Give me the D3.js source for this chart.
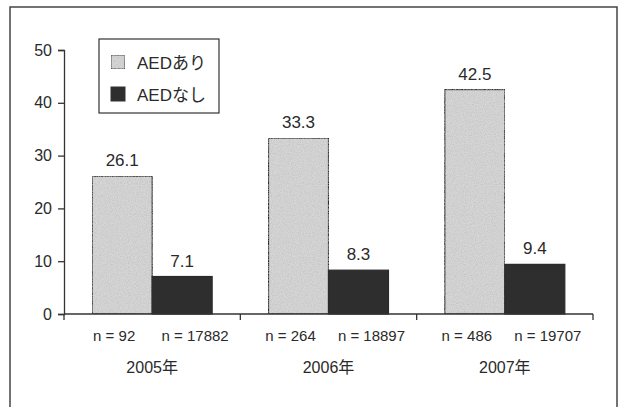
<!DOCTYPE html>
<html>
<head>
<meta charset="utf-8">
<script src="https://cdn.jsdelivr.net/npm/d3@7"></script>
<style>
  body { margin: 0; background: #fff; }
  text { font-family: "Liberation Sans", Arial, "Noto Sans CJK JP", sans-serif; fill: #2a2a2a; }
</style>
</head>
<body>
<div id="chart"></div>
<script>
// data
const years = ["2005年", "2006年", "2007年"];
const series = ["AEDあり", "AEDなし"];
const withAED = [26.1, 33.3, 42.5];
const withoutAED = [7.1, 8.3, 9.4];
const nWith = [92, 264, 486];
const nWithout = [17882, 18897, 19707];
const yTicks = [0, 10, 20, 30, 40, 50];

const W = 621, H = 407;
const M = {top: 50, left: 64, right: 28, bottom: 93};

const svg = d3.select("#chart").append("svg")
  .attr("width", W)
  .attr("height", H);

// outer frame
svg.append("rect")
  .attr("x", 10).attr("y", 7)
  .attr("width", 607).attr("height", 420)
  .attr("fill", "none")
  .attr("stroke", "#444")
  .attr("stroke-width", 1.5);

// speckle texture for light bars
const defs = svg.append("defs");
const filt = defs.append("filter").attr("id", "grain")
  .attr("x", 0).attr("y", 0).attr("width", 1).attr("height", 1);
filt.append("feTurbulence")
  .attr("type", "fractalNoise").attr("baseFrequency", 0.9)
  .attr("numOctaves", 2).attr("seed", 3).attr("result", "noise");
filt.append("feColorMatrix").attr("in", "noise").attr("type", "matrix")
  .attr("values", "0 0 0 0 0.5  0 0 0 0 0.5  0 0 0 0 0.5  0 0 0 -1.4 0.9")
  .attr("result", "dots");
filt.append("feComposite").attr("in", "dots").attr("in2", "SourceGraphic")
  .attr("operator", "in").attr("result", "dotsIn");
const fm = filt.append("feMerge");
fm.append("feMergeNode").attr("in", "SourceGraphic");
fm.append("feMergeNode").attr("in", "dotsIn");

const x0 = d3.scaleBand()
  .domain(years)
  .range([M.left, W - M.right])
  .paddingInner(0).paddingOuter(0);

const x1 = d3.scaleBand()
  .domain(series)
  .range([0, x0.bandwidth()])
  .paddingOuter(0.47);

const y = d3.scaleLinear()
  .domain([0, 50])
  .range([H - M.bottom, M.top]);

const color = d3.scaleOrdinal().domain(series).range(["#d6d6d6", "#2e2e2e"]);
// n labels sit a little apart from the bar centres
const nShift = d3.scaleOrdinal().domain(series).range([-8, 13]);

// y axis
const yAxis = svg.append("g")
  .attr("transform", `translate(${M.left},0)`)
  .call(d3.axisLeft(y).tickValues(yTicks).tickSize(6).tickPadding(6));
yAxis.select(".domain").attr("stroke", "#333").attr("stroke-width", 1.3);
yAxis.selectAll(".tick line").attr("stroke", "#333").attr("stroke-width", 1.3);
yAxis.selectAll(".tick text").attr("font-size", 16).attr("fill", "#2a2a2a");

// bars
const rows = years.map((yr, i) => ({
  year: yr,
  vals: [
    {key: series[0], v: withAED[i], n: nWith[i]},
    {key: series[1], v: withoutAED[i], n: nWithout[i]}
  ]
}));

const g = svg.selectAll("g.grp")
  .data(rows)
  .enter().append("g")
  .attr("class", "grp")
  .attr("transform", d => `translate(${x0(d.year)},0)`);

g.selectAll("rect")
  .data(d => d.vals)
  .enter().append("rect")
  .attr("x", d => x1(d.key))
  .attr("y", d => y(d.v))
  .attr("width", x1.bandwidth())
  .attr("height", d => y(0) - y(d.v))
  .attr("fill", d => color(d.key))
  .attr("filter", d => d.key === series[0] ? "url(#grain)" : null)
  .attr("stroke", "#2a2a2a")
  .attr("stroke-width", 1.2);

g.selectAll("text.val")
  .data(d => d.vals)
  .enter().append("text")
  .attr("class", "val")
  .attr("x", d => x1(d.key) + x1.bandwidth() / 2)
  .attr("y", d => y(d.v) - 10)
  .attr("text-anchor", "middle")
  .attr("font-size", 17)
  .text(d => d.v.toFixed(1));

g.selectAll("text.n")
  .data(d => d.vals)
  .enter().append("text")
  .attr("class", "n")
  .attr("x", d => x1(d.key) + x1.bandwidth() / 2 + nShift(d.key))
  .attr("y", y(0) + 27)
  .attr("text-anchor", "middle")
  .attr("font-size", 15)
  .text(d => "n = " + d.n);

g.append("text")
  .attr("x", x0.bandwidth() / 2)
  .attr("y", y(0) + 59)
  .attr("text-anchor", "middle")
  .attr("font-size", 16)
  .text(d => d.year);

// x axis
const xAxis = svg.append("g")
  .attr("transform", `translate(0,${y(0)})`);
xAxis.append("line")
  .attr("x1", M.left).attr("x2", W - M.right)
  .attr("stroke", "#333").attr("stroke-width", 1.3);
xAxis.selectAll("line.tk")
  .data(years.map(yr => x0(yr)).concat([x0(years[years.length - 1]) + x0.bandwidth()]))
  .enter().append("line")
  .attr("class", "tk")
  .attr("x1", d => d).attr("x2", d => d)
  .attr("y1", 0).attr("y2", 6)
  .attr("stroke", "#333").attr("stroke-width", 1.3);

// legend
const lg = svg.append("g").attr("transform", "translate(99,39)");
lg.append("rect")
  .attr("width", 120).attr("height", 74)
  .attr("fill", "#fff")
  .attr("stroke", "#333").attr("stroke-width", 1.2);
const li = lg.selectAll("g.item")
  .data(series)
  .enter().append("g")
  .attr("class", "item")
  .attr("transform", (d, i) => `translate(12,${16 + i * 32})`);
li.append("rect")
  .attr("width", 14).attr("height", 14)
  .attr("fill", d => color(d))
  .attr("filter", d => d === series[0] ? "url(#grain)" : null)
  .attr("stroke", "#333").attr("stroke-width", 1);
li.append("text")
  .attr("x", 26).attr("y", 14)
  .attr("font-size", 17)
  .text(d => d);
</script>
</body>
</html>
